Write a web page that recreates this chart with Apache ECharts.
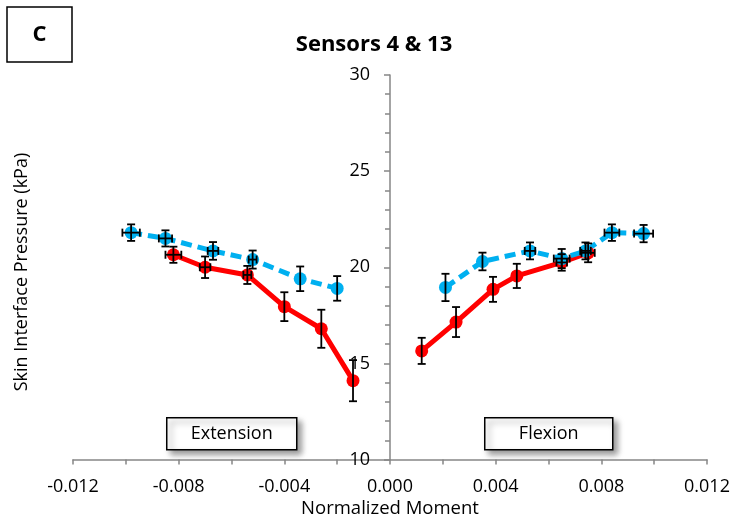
<!DOCTYPE html>
<html>
<head>
<meta charset="utf-8">
<title>Sensors 4 & 13</title>
<script src="https://cdn.jsdelivr.net/npm/echarts@6/dist/echarts.min.js"></script>
<style>
  html, body { margin: 0; padding: 0; background: #fff; }
  #chart { width: 734px; height: 521px; }
</style>
</head>
<body>
<div id="chart"></div>
<script>
// extension side (negative moment)
const blueExtX = [-0.0098, -0.0085, -0.0067, -0.0052, -0.0034, -0.0020];
const blueExtY = [21.8, 21.5, 20.85, 20.4, 19.4, 18.9];
const blueExtYErr = [0.43, 0.42, 0.46, 0.47, 0.64, 0.64];
const blueExtXErr = [0.00033, 0.00025, 0.0002, 0.00015, 0, 0];

const redExtX = [-0.0082, -0.0070, -0.0054, -0.0040, -0.0026, -0.0014];
const redExtY = [20.65, 20.0, 19.6, 17.95, 16.8, 14.1];
const redExtYErr = [0.42, 0.56, 0.47, 0.75, 0.99, 1.07];
const redExtXErr = [0.0003, 0.0002, 0.00015, 0, 0, 0];

// flexion side (positive moment)
const blueFlexX = [0.0021, 0.0035, 0.0053, 0.0065, 0.0074, 0.0084, 0.0096];
const blueFlexY = [18.95, 20.3, 20.85, 20.45, 20.85, 21.8, 21.75];
const blueFlexYErr = [0.71, 0.46, 0.44, 0.5, 0.44, 0.43, 0.45];
const blueFlexXErr = [0, 0, 0.0002, 0.0003, 0.0002, 0.00028, 0.00036];

const redFlexX = [0.0012, 0.0025, 0.0039, 0.0048, 0.0065, 0.0075];
const redFlexY = [15.65, 17.15, 18.85, 19.55, 20.25, 20.75];
const redFlexYErr = [0.68, 0.78, 0.65, 0.63, 0.43, 0.49];
const redFlexXErr = [0, 0, 0, 0, 0.0002, 0.00025];

const xTicks = [-0.012, -0.008, -0.004, 0, 0.004, 0.008, 0.012];

const RED = '#ff0000';
const BLUE = '#00b0f0';
const AXIS = '#868686';
const FONT = '"Open Sans", "Noto Sans", sans-serif';

const GRID_LEFT = 73;
const GRID_RIGHT = 27;
const PLOT_W = 734 - GRID_LEFT - GRID_RIGHT;

function zip(xs, ys) {
  return xs.map((x, i) => [x, ys[i]]);
}

function lineSeries(xs, ys, color, dashed) {
  return {
    type: 'line',
    data: zip(xs, ys),
    symbol: 'circle',
    symbolSize: 13,
    z: 2,
    itemStyle: { color: color },
    lineStyle: { color: color, width: 5, type: dashed ? [11, 6] : 'solid' }
  };
}

function errorSeries(xs, ys, yErr, xErr) {
  return {
    type: 'custom',
    z: 4,
    data: xs.map((x, i) => [x, ys[i], yErr[i], xErr[i]]),
    renderItem: function (params, api) {
      const x = api.value(0), y = api.value(1);
      const ey = api.value(2), ex = api.value(3);
      const cap = 4;
      const style = { stroke: '#000', lineWidth: 1.8 };
      const top = api.coord([x, y + ey]);
      const bot = api.coord([x, y - ey]);
      const kids = [
        { type: 'line', shape: { x1: top[0], y1: top[1], x2: bot[0], y2: bot[1] }, style: style },
        { type: 'line', shape: { x1: top[0] - cap, y1: top[1], x2: top[0] + cap, y2: top[1] }, style: style },
        { type: 'line', shape: { x1: bot[0] - cap, y1: bot[1], x2: bot[0] + cap, y2: bot[1] }, style: style }
      ];
      if (ex > 0) {
        const l = api.coord([x - ex, y]);
        const r = api.coord([x + ex, y]);
        kids.push(
          { type: 'line', shape: { x1: l[0], y1: l[1], x2: r[0], y2: r[1] }, style: style },
          { type: 'line', shape: { x1: l[0], y1: l[1] - cap, x2: l[0], y2: l[1] + cap }, style: style },
          { type: 'line', shape: { x1: r[0], y1: r[1] - cap, x2: r[0], y2: r[1] + cap }, style: style }
        );
      }
      return { type: 'group', children: kids };
    }
  };
}

function labelBox(left, top, w, h, text) {
  return {
    type: 'group',
    left: left,
    top: top,
    z: 10,
    children: [
      {
        type: 'rect',
        shape: { x: 0, y: 0, width: w, height: h },
        style: {
          fill: '#fff', stroke: '#000', lineWidth: 1.5,
          shadowBlur: 6, shadowOffsetX: 4, shadowOffsetY: 4,
          shadowColor: 'rgba(0,0,0,0.4)'
        }
      },
      {
        type: 'text',
        x: w / 2, y: h / 2,
        style: {
          text: text, fill: '#000', font: '18px ' + FONT,
          align: 'center', verticalAlign: 'middle'
        }
      }
    ]
  };
}

const chart = echarts.init(document.getElementById('chart'));
chart.setOption({
  animation: false,
  grid: { left: GRID_LEFT, right: GRID_RIGHT, top: 75, bottom: 61.5, outerBoundsMode: 'none', containLabel: false },
  xAxis: {
    type: 'value',
    min: -0.012,
    max: 0.012,
    interval: 0.004,
    name: 'Normalized Moment',
    nameLocation: 'middle',
    nameGap: 40,
    nameMoveOverlap: false,
    nameTextStyle: { fontFamily: FONT, fontSize: 18.5, color: '#000' },
    splitLine: { show: false },
    axisLine: { show: true, onZero: false, lineStyle: { color: AXIS, width: 1.5 } },
    axisTick: { show: true, length: 5, lineStyle: { color: AXIS, width: 1.5 } },
    minorTick: { show: true, splitNumber: 2, length: 5, lineStyle: { color: AXIS, width: 1.5 } },
    axisLabel: {
      margin: 18,
      fontFamily: FONT, fontSize: 18, color: '#000',
      formatter: v => xTicks.includes(+v.toFixed(3)) ? v.toFixed(3) : ''
    }
  },
  yAxis: {
    type: 'value',
    min: 10,
    max: 30,
    interval: 5,
    offset: -PLOT_W / 2,
    splitLine: { show: false },
    axisLine: { show: true, onZero: false, lineStyle: { color: AXIS, width: 1.5 } },
    axisTick: { show: true, length: 6, lineStyle: { color: AXIS, width: 1.5 } },
    minorTick: { show: true, splitNumber: 5, length: 5, lineStyle: { color: AXIS, width: 1.5 } },
    axisLabel: { margin: 20, fontFamily: FONT, fontSize: 18, color: '#000' }
  },
  graphic: [
    {
      type: 'text',
      x: 374, y: 45,
      style: {
        text: 'Sensors 4 & 13', fill: '#000', font: 'bold 22px ' + FONT,
        align: 'center', verticalAlign: 'middle'
      }
    },
    {
      type: 'rect',
      shape: { x: 7, y: 7, width: 65, height: 55 },
      style: { fill: '#fff', stroke: '#000', lineWidth: 1.5 }
    },
    {
      type: 'text',
      x: 39.5, y: 35,
      style: {
        text: 'C', fill: '#000', font: 'bold 22px ' + FONT,
        align: 'center', verticalAlign: 'middle'
      }
    },
    {
      type: 'text',
      x: 22, y: 272,
      rotation: Math.PI / 2,
      style: {
        text: 'Skin Interface Pressure (kPa)', fill: '#000', font: '18px ' + FONT,
        align: 'center', verticalAlign: 'middle'
      }
    },
    labelBox(166, 417, 130, 32, 'Extension'),
    labelBox(484, 417, 128, 32, 'Flexion')
  ],
  series: [
    lineSeries(redExtX, redExtY, RED, false),
    lineSeries(redFlexX, redFlexY, RED, false),
    lineSeries(blueExtX, blueExtY, BLUE, true),
    lineSeries(blueFlexX, blueFlexY, BLUE, true),
    errorSeries(redExtX, redExtY, redExtYErr, redExtXErr),
    errorSeries(redFlexX, redFlexY, redFlexYErr, redFlexXErr),
    errorSeries(blueExtX, blueExtY, blueExtYErr, blueExtXErr),
    errorSeries(blueFlexX, blueFlexY, blueFlexYErr, blueFlexXErr)
  ]
});
</script>
</body>
</html>
